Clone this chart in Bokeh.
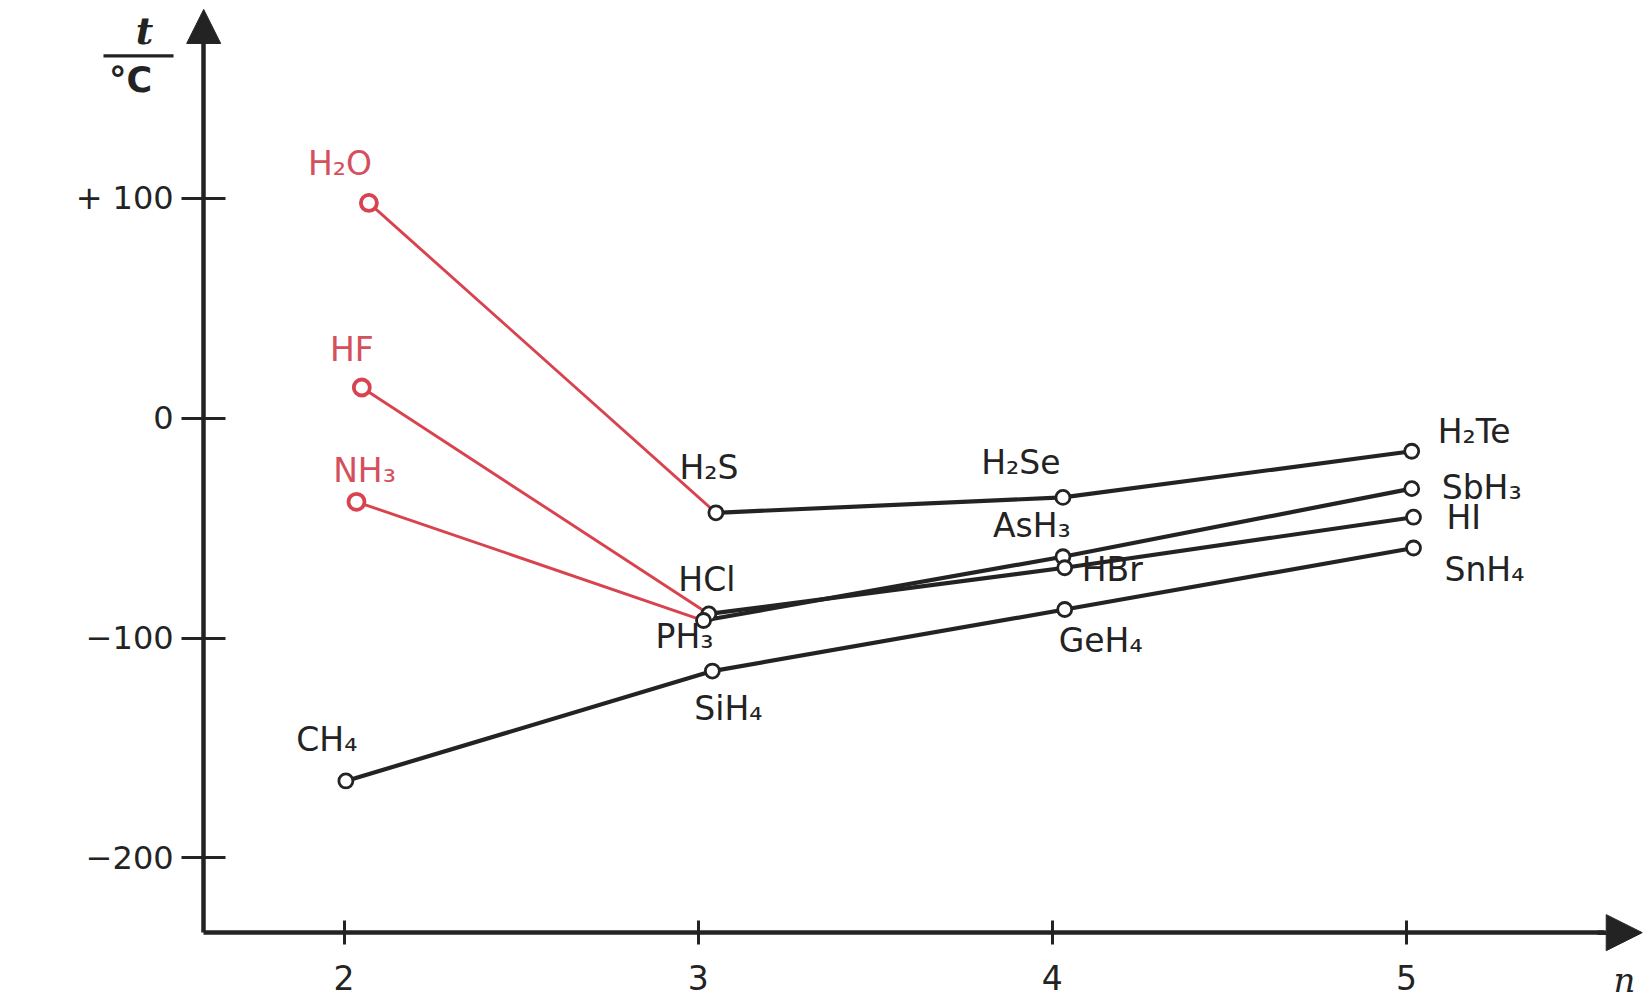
from bokeh.plotting import figure
from bokeh.models import (ColumnDataSource, FixedTicker, Arrow, NormalHead, Label,
                          BoxAnnotation)
from bokeh.core.properties import value
from bokeh.embed import file_html
from bokeh.resources import INLINE

# ---- data ----
compounds = ["H₂O", "HF", "NH₃", "CH₄",
             "H₂S", "HCl", "PH₃", "SiH₄",
             "H₂Se", "AsH₃", "HBr", "GeH₄",
             "H₂Te", "SbH₃", "HI", "SnH₄"]
period_n = [2.07, 2.05, 2.035, 2.005,
            3.05, 3.03, 3.015, 3.04,
            4.03, 4.03, 4.035, 4.035,
            5.015, 5.015, 5.02, 5.02]
boiling_t = [98, 14, -38, -165,
             -43, -89, -92, -115,
             -36, -63, -68, -87,
             -15, -32, -45, -59]
is_anomalous = [True, True, True, False] + [False] * 12

# series connections (by compound name)
black_series = [["H₂S", "H₂Se", "H₂Te"],
                ["HCl", "HBr", "HI"],
                ["PH₃", "AsH₃", "SbH₃"],
                ["CH₄", "SiH₄", "GeH₄", "SnH₄"]]
red_series = [["H₂O", "H₂S"], ["HF", "HCl"], ["NH₃", "PH₃"]]

x_ticks = [2, 3, 4, 5]
y_ticks = [-200, -100, 0, 100]
y_tick_labels = {-200: "−200", -100: "−100", 0: "0", 100: "+ 100"}

# ---- layout / style ----
RED = "#d8434f"
RED_TXT = "#d4505c"
BLACK = "#232323"

X_AXIS_AT = -234.0     # where the n axis crosses
Y_AXIS_AT = 1.6035     # where the t axis crosses

# label offsets in pixels (dx, dy) and alignment, per compound
label_layout = {
    "H₂O": (-29, -39, "center"), "HF": (-10, -38, "center"),
    "NH₃": (8, -31, "center"), "CH₄": (-19, -41, "center"),
    "H₂S": (-7, -45, "center"), "HCl": (-2, -34, "center"),
    "PH₃": (10, 16, "right"), "SiH₄": (-18, 37, "left"),
    "H₂Se": (-42, -35, "center"), "AsH₃": (-31, -31, "center"),
    "HBr": (17, 2, "left"), "GeH₄": (36, 31, "center"),
    "H₂Te": (26, -20, "left"), "SbH₃": (30, -1, "left"),
    "HI": (33, 0, "left"), "SnH₄": (31, 22, "left"),
}

p = figure(width=1644, height=1004, output_backend="svg", toolbar_location=None,
           x_range=(1.02965, 5.67241), y_range=(-266.70, 190.08),
           min_border_left=0, min_border_right=0, min_border_top=0,
           min_border_bottom=0)
p.outline_line_color = None
p.xgrid.visible = False
p.ygrid.visible = False
p.background_fill_color = "white"
p.border_fill_color = "white"

idx = {c: i for i, c in enumerate(compounds)}

for s in red_series:
    p.line([period_n[idx[c]] for c in s], [boiling_t[idx[c]] for c in s],
           line_color=RED, line_width=2.9)
for s in black_series:
    p.line([period_n[idx[c]] for c in s], [boiling_t[idx[c]] for c in s],
           line_color=BLACK, line_width=4.2)

red_src = ColumnDataSource(dict(
    x=[period_n[i] for i in range(len(compounds)) if is_anomalous[i]],
    y=[boiling_t[i] for i in range(len(compounds)) if is_anomalous[i]]))
blk_src = ColumnDataSource(dict(
    x=[period_n[i] for i in range(len(compounds)) if not is_anomalous[i]],
    y=[boiling_t[i] for i in range(len(compounds)) if not is_anomalous[i]]))
p.scatter("x", "y", source=red_src, marker="circle", size=16, fill_color="white",
          line_color=RED, line_width=3.8)
p.scatter("x", "y", source=blk_src, marker="circle", size=14, fill_color="white",
          line_color=BLACK, line_width=2.8)

for align in ["center", "left", "right"]:
    sel = [i for i, c in enumerate(compounds) if label_layout[c][2] == align]
    src = ColumnDataSource(dict(
        x=[period_n[i] for i in sel], y=[boiling_t[i] for i in sel],
        t=[compounds[i] for i in sel],
        dx=[label_layout[compounds[i]][0] for i in sel],
        dy=[label_layout[compounds[i]][1] for i in sel],
        c=[RED_TXT if is_anomalous[i] else BLACK for i in sel]))
    p.text("x", "y", text="t", source=src, x_offset="dx", y_offset="dy",
           text_align=align, text_baseline="middle", text_color="c",
           text_font=value("DejaVu Sans"), text_font_size="33px")

# axes, crossing inside the frame
for ax in (p.xaxis, p.yaxis):
    ax.axis_line_width = 4.5
    ax.axis_line_color = BLACK
    ax.major_tick_line_color = BLACK
    ax.major_tick_line_width = 3
    ax.minor_tick_line_color = None
    ax.major_label_text_color = BLACK
    ax.major_label_text_font = "DejaVu Sans"

p.xaxis.fixed_location = X_AXIS_AT
p.xaxis.bounds = (Y_AXIS_AT, 5.56)
p.xaxis.ticker = FixedTicker(ticks=x_ticks)
p.xaxis.major_tick_in = 12
p.xaxis.major_tick_out = 12
p.xaxis.major_label_standoff = 20
p.xaxis.major_label_text_font_size = "33px"

p.yaxis.fixed_location = Y_AXIS_AT
p.yaxis.bounds = (X_AXIS_AT, 176)
p.yaxis.ticker = FixedTicker(ticks=y_ticks)
p.yaxis.major_label_overrides = y_tick_labels
p.yaxis.major_tick_in = 22
p.yaxis.major_tick_out = 22
p.yaxis.major_label_standoff = 8
p.yaxis.major_label_text_font_size = "32px"

# axis arrows
p.add_layout(Arrow(end=NormalHead(size=34, fill_color=BLACK, line_color=BLACK),
                   x_start=Y_AXIS_AT, y_start=175, x_end=Y_AXIS_AT, y_end=186,
                   line_width=4.5, line_color=BLACK))
p.add_layout(Arrow(end=NormalHead(size=36, fill_color=BLACK, line_color=BLACK),
                   x_start=5.54, y_start=X_AXIS_AT, x_end=5.666, y_end=X_AXIS_AT,
                   line_width=4.5, line_color=BLACK))

# axis titles: t / °C and n
p.add_layout(Label(x=1.4363, y=176.4, text="t", text_align="center",
                   text_baseline="middle", text_font="DejaVu Serif",
                   text_font_style="bold italic", text_font_size="38px",
                   text_color=BLACK))
p.add_layout(BoxAnnotation(left=1.3205, right=1.5183, top=165.6, bottom=164.2,
                           fill_color=BLACK, fill_alpha=1, line_color=None))
p.add_layout(Label(x=1.397, y=153.8, text="°C", text_align="center",
                   text_baseline="middle", text_font="DejaVu Sans",
                   text_font_style="bold", text_font_size="35px",
                   text_color=BLACK))
p.add_layout(Label(x=5.616, y=-255.5, text="n", text_align="center",
                   text_baseline="middle", text_font="DejaVu Serif",
                   text_font_style="italic", text_font_size="34px",
                   text_color=BLACK))

open("out.html", "w").write(file_html(p, INLINE))
